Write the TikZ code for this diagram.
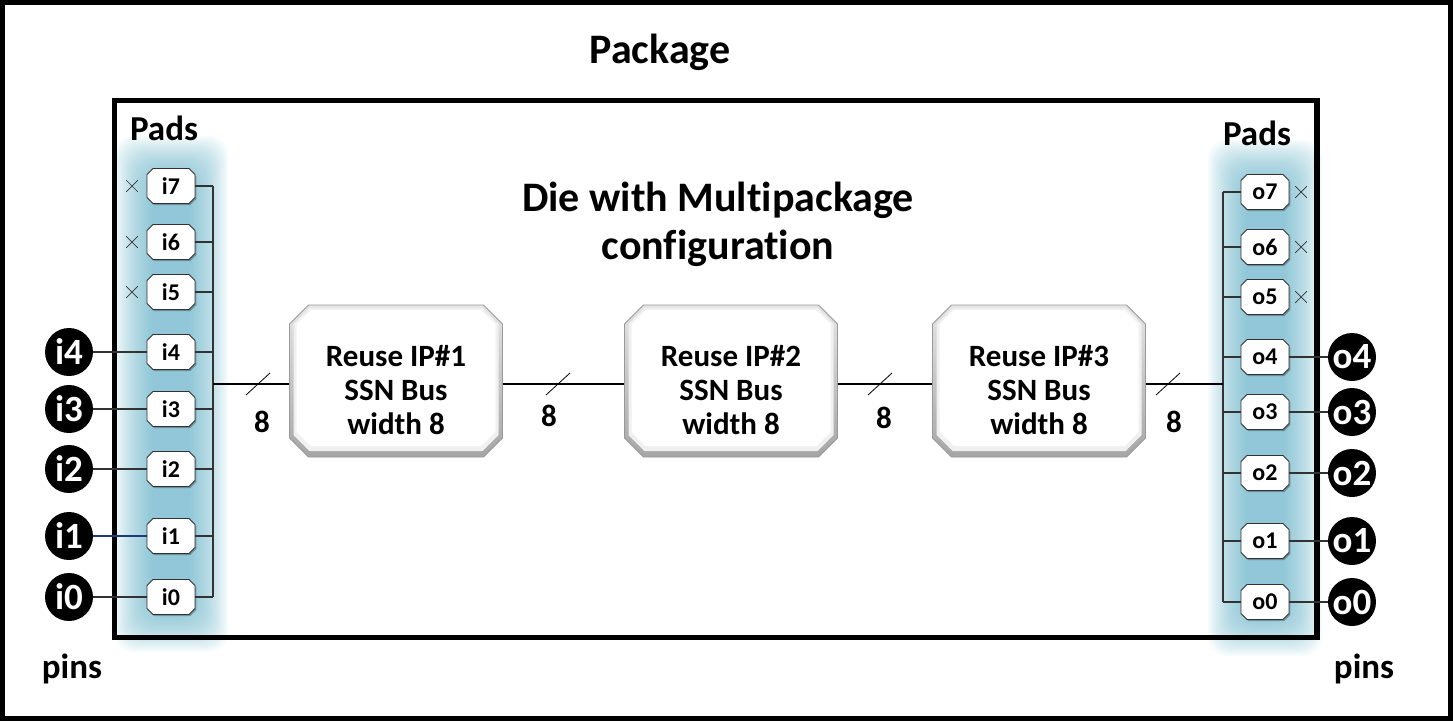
\documentclass[tikz,border=0pt]{standalone}
\usepackage{fontspec}
\setmainfont{Carlito}[Ligatures=NoCommon]
\usetikzlibrary{shapes.misc,calc}
\definecolor{glowc}{RGB}{95,178,203}
\definecolor{linec}{RGB}{50,50,50}
\definecolor{navyc}{RGB}{31,56,120}
% octagon: center x, center y, width, height, chamfer
\newcommand{\octa}[5]{({#1-#3/2+#5},{#2-#4/2}) -- ({#1+#3/2-#5},{#2-#4/2}) -- ({#1+#3/2},{#2-#4/2+#5}) -- ({#1+#3/2},{#2+#4/2-#5}) -- ({#1+#3/2-#5},{#2+#4/2}) -- ({#1-#3/2+#5},{#2+#4/2}) -- ({#1-#3/2},{#2+#4/2-#5}) -- ({#1-#3/2},{#2-#4/2+#5}) -- cycle}
\begin{document}
\begin{tikzpicture}[x=1pt,y=-1pt,
  padbox/.style={rectangle, minimum width=48pt, minimum height=35pt, inner sep=0pt,
    font=\fontsize{24}{26}\selectfont\bfseries},
  padshape/.style={fill=white, draw=linec, line width=0.8pt},
  padshadow/.style={fill=black, opacity=0.28},
  pinc/.style={circle, fill=black, text=white, minimum size=48pt, inner sep=0pt,
    font=\fontsize{37}{40}\selectfont\bfseries},
  wire/.style={draw=linec, line width=1.1pt},
  xmark/.style={cross out, draw=black!80, line width=0.7pt, minimum size=11pt, inner sep=0pt},
  ipbox/.style={rectangle, minimum width=213pt, minimum height=152pt, inner sep=0pt},
  ipouter/.style={draw=gray!80, line width=0.8pt, top color=gray!20, bottom color=gray!70},
  ipmid/.style={fill=gray!12},
  ipinner/.style={fill=white},
  iptext/.style={align=center, font=\fontsize{31}{34}\selectfont\bfseries},
  lbl/.style={font=\fontsize{31}{36}\selectfont\bfseries},
  title/.style={font=\fontsize{42}{50}\selectfont\bfseries},
  sub/.style={font=\fontsize{35}{40}\selectfont\bfseries},
]
\useasboundingbox (0,0) rectangle (1453,721);
\fill[white] (0,0) rectangle (1453,721);
% glows
\foreach \k in {0,...,19}{
  \fill[glowc, opacity=0.05, rounded corners=20pt] (114+\k*2, 136+\k*2.2) rectangle (228-\k*2, 652-\k*2.2);
  \fill[glowc, opacity=0.05, rounded corners=20pt] (1208+\k*2, 140+\k*2.2) rectangle (1322-\k*2, 656-\k*2.2);
}
% frames
\draw[line width=5pt] (2.5,2.5) rectangle (1450.5,718.5);
\draw[line width=5.5pt] (114.5,100.5) rectangle (1317,637.5);
% titles
\node[title, anchor=base] (pkg) at (660,63) {Package};
\node[title, anchor=base] (die1) at (718,211) {Die with Multipackage};
\node[title, anchor=base] (die2) at (718,259) {configuration};
\node[sub, anchor=base] (padsl) at (164,140) {Pads};
\node[sub, anchor=base] (padsr) at (1257,145) {Pads};
\node[sub, anchor=base] (pinsl) at (72,678) {pins};
\node[sub, anchor=base] (pinsr) at (1364,678) {pins};
% helper coordinates
\coordinate (lbus) at (213,384);
\coordinate (rbus) at (1223,384);
\coordinate (pxl) at (69,0);
\coordinate (pxr) at (1352,0);
\coordinate (cxl) at (132,0);
\coordinate (cxr) at (1301,0);
% IP boxes
\foreach \n/\x in {1/396,2/731,3/1039}{
  \path[ipouter] \octa{\x}{381}{213}{152}{19};
  \path[ipmid] \octa{\x}{379.5}{205}{143}{16};
  \path[ipinner] \octa{\x}{378}{199}{136}{14};
  \node[ipbox] (IP\n) at (\x,381) {};
  \node[iptext] (IP\n t) at (\x,390) {Reuse IP\#\n\\SSN Bus\\width 8};
}
% pads
\foreach \n/\y in {7/186,6/242,5/292,4/352,3/409,2/469,1/536,0/597}{
  \path[padshadow] \octa{172.3}{\y+1.6}{48}{35}{6};
  \path[padshape] \octa{171}{\y}{48}{35}{6};
  \node[padbox] (i\n) at (171,\y) {i\n};
  \draw[wire] (i\n.east) -- (i\n.east -| lbus);
}
\foreach \n/\y in {7/192,6/247,5/297,4/357,3/412,2/473,1/541,0/602}{
  \path[padshadow] \octa{1266.3}{\y+1.6}{48}{35}{6};
  \path[padshape] \octa{1265}{\y}{48}{35}{6};
  \node[padbox] (o\n) at (1265,\y) {o\n};
  \draw[wire] (o\n.west) -- (o\n.west -| rbus);
}
% buses
\draw[wire] (i7.east -| lbus) -- (i0.east -| lbus);
\draw[wire] (o7.west -| rbus) -- (o0.west -| rbus);
\draw[wire, draw=black] (lbus) -- (lbus -| IP1.west);
\draw[wire, draw=black] (IP1.east |- lbus) -- (IP2.west |- lbus);
\draw[wire, draw=black] (IP2.east |- lbus) -- (IP3.west |- lbus);
\draw[wire, draw=black] (IP3.east |- lbus) -- (rbus);
% pins
\foreach \n in {0,...,4}{
  \node[pinc] (pi\n) at (i\n -| pxl) {i\n};
  \node[pinc] (po\n) at (o\n -| pxr) {o\n};
  \draw[wire] (po\n) -- (o\n);
}
\foreach \n in {0,2,3,4}{ \draw[wire] (pi\n) -- (i\n); }
\draw[wire, draw=navyc] (pi1) -- (i1);
% unconnected marks
\foreach \n in {5,6,7}{
  \node[xmark] (xi\n) at (i\n -| cxl) {};
  \node[xmark] (xo\n) at (o\n -| cxr) {};
}
% bus width slashes and labels
\foreach \s/\x in {1/258,2/558,3/880,4/1168}{
  \coordinate (s\s) at (\x,384);
  \draw[line width=0.8pt] ($(s\s)+(-12,11)$) -- ($(s\s)+(12,-11)$);
}
\node[lbl] (n1) at (262,422) {8};
\node[lbl] (n2) at (549,416) {8};
\node[lbl] (n3) at (884,418) {8};
\node[lbl] (n4) at (1174,422) {8};
\end{tikzpicture}
\end{document}
